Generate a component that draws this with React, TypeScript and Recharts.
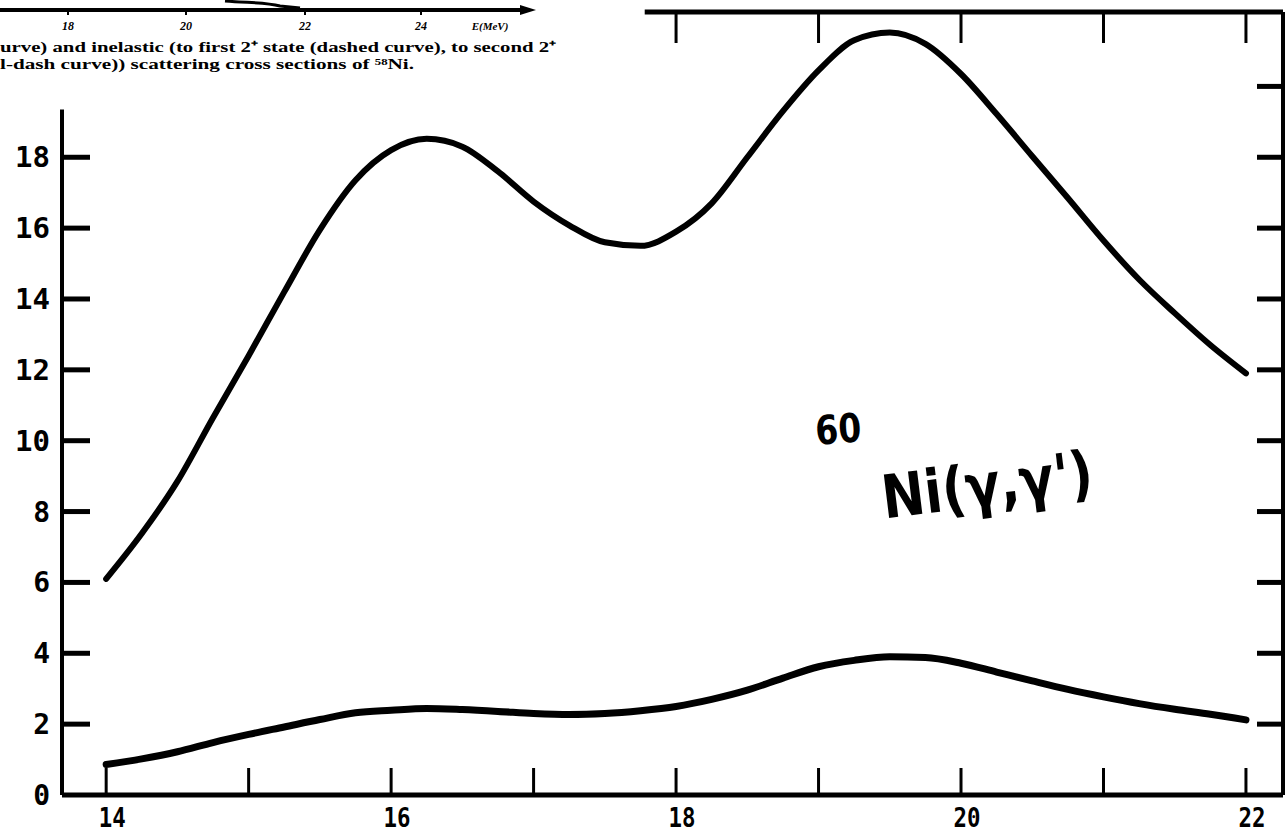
import React from "react";
import { LineChart, Line, XAxis, YAxis, ReferenceLine } from "recharts";

// Photon energy (MeV) and the two cross-section curves.
const energies = [
  14, 14.25, 14.5, 14.75, 15, 15.25, 15.5, 15.75, 16, 16.25, 16.5, 16.75, 17,
  17.25, 17.5, 17.75, 18, 18.25, 18.5, 18.75, 19, 19.25, 19.5, 19.75, 20, 20.25,
  20.5, 20.75, 21, 21.25, 21.5, 21.75, 22,
];
const elastic = [
  6.1, 7.38, 8.85, 10.65, 12.4, 14.2, 15.95, 17.35, 18.2, 18.52, 18.3, 17.6, 16.75,
  16.08, 15.6, 15.5, 15.9, 16.7, 18.0, 19.3, 20.45, 21.3, 21.52, 21.2, 20.35, 19.22,
  18.03, 16.85, 15.65, 14.55, 13.6, 12.7, 11.9,
];
const inelastic = [
  0.86, 1.02, 1.22, 1.48, 1.71, 1.92, 2.13, 2.32, 2.39, 2.44, 2.41, 2.36, 2.3,
  2.27, 2.3, 2.38, 2.5, 2.7, 2.96, 3.3, 3.62, 3.8, 3.9, 3.88, 3.72, 3.47,
  3.22, 2.98, 2.77, 2.58, 2.42, 2.28, 2.12,
];

const bottomTicks = [14, 15, 16, 17, 18, 19, 20, 21, 22];
const leftTicks = [0, 2, 4, 6, 8, 10, 12, 14, 16, 18];
const rightTicks = [2, 4, 6, 8, 10, 12, 14, 16, 18, 20];
const topTicks = [18, 19, 20, 21, 22];

// fragment of the neighbouring figure + caption that the scan cut through
const insetLabels = ["18", "20", "22", "24"];
const captionLines = [
  "urve) and inelastic (to first 2\u207a state (dashed curve), to second 2\u207a",
  "l-dash curve)) scattering cross sections of \u2075\u2078Ni.",
];

const X_DOMAIN: [number, number] = [13.69, 22.26];
const Y_DOMAIN: [number, number] = [0, 22.1];
const INK = "#000";
const PLOT_FONT = "'DejaVu Sans Mono', monospace";

const rows = energies.map((e, i) => ({ e, elastic: elastic[i], inelastic: inelastic[i] }));

const BottomTick = (p: any) => {
  const v = p.payload.value;
  return (
    <g>
      <line x1={p.x} x2={p.x} y1={p.y} y2={p.y - 27} stroke={INK} strokeWidth={3} />
      {v % 2 === 0 ? (
        <text x={p.x + 6} y={p.y + 32} textAnchor="middle" fontFamily={PLOT_FONT}
          fontWeight="bold" fontSize={27} fill={INK} textLength={27} lengthAdjust="spacingAndGlyphs">
          {v}
        </text>
      ) : null}
    </g>
  );
};

const LeftTick = (p: any) => {
  const v = p.payload.value;
  return (
    <g>
      {v > 0 ? <line x1={p.x} x2={p.x + 28} y1={p.y} y2={p.y} stroke={INK} strokeWidth={5} /> : null}
      <text x={p.x - 12} y={p.y + 10} textAnchor="end" fontFamily={PLOT_FONT}
        fontWeight="bold" fontSize={28} fill={INK}
        {...(v >= 10 ? { textLength: 35, lengthAdjust: "spacingAndGlyphs" } : {})}>
        {v}
      </text>
    </g>
  );
};

const RightTick = (p: any) => (
  <line x1={p.x} x2={p.x - 26} y1={p.y} y2={p.y} stroke={INK} strokeWidth={5} />
);

const TopTick = (p: any) => (
  <line x1={p.x} x2={p.x} y1={p.y} y2={p.y + 31} stroke={INK} strokeWidth={3} />
);

function ScanFragment() {
  const insetX = [68, 186, 305, 421];
  return (
    <svg width={1285} height={110} style={{ position: "absolute", left: 0, top: 0 }}>
      <line x1={0} x2={528} y1={10} y2={10} stroke={INK} strokeWidth={4} />
      <path d="M520,5 L536,10 L520,15 Z" fill={INK} />
      <path d="M225,1 C250,3 265,2 280,6 L300,8" fill="none" stroke={INK} strokeWidth={3} />
      {insetLabels.map((t, i) => (
        <g key={t}>
          <line x1={insetX[i]} x2={insetX[i]} y1={10} y2={15} stroke={INK} strokeWidth={2} />
          <text x={insetX[i]} y={30} textAnchor="middle" fontFamily="'Liberation Serif', serif"
            fontStyle="italic" fontWeight="bold" fontSize={12} fill={INK}>{t}</text>
        </g>
      ))}
      <text x={490} y={30} textAnchor="middle" fontFamily="'Liberation Serif', serif"
        fontStyle="italic" fontWeight="bold" fontSize={11} fill={INK}>E(MeV)</text>
      {captionLines.map((t, i) => (
        <text key={i} x={0} y={52 + i * 17} fontFamily="'Liberation Serif', serif" fontWeight="bold"
          fontSize={15} fill={INK} textLength={i === 0 ? 556 : 414} lengthAdjust="spacingAndGlyphs">
          {t}
        </text>
      ))}
    </svg>
  );
}

export default function App() {
  return (
    <div style={{ position: "absolute", left: 0, top: 0, width: 1285, height: 837, background: "#fff" }}>
      <LineChart width={1285} height={837} data={rows} margin={{ top: 11, right: 1, bottom: 41, left: 61 }}>
        <XAxis dataKey="e" type="number" domain={X_DOMAIN} allowDataOverflow ticks={bottomTicks}
          height={1} tickSize={0} tickMargin={0} tickLine={false}
          axisLine={{ stroke: INK, strokeWidth: 5 }} tick={<BottomTick />} interval={0} />
        <XAxis xAxisId="top" orientation="top" dataKey="e" type="number" domain={X_DOMAIN}
          allowDataOverflow ticks={topTicks} height={1} tickSize={0} tickMargin={0}
          tickLine={false} axisLine={false} tick={<TopTick />} interval={0} />
        <YAxis type="number" domain={Y_DOMAIN} allowDataOverflow ticks={leftTicks} width={1}
          tickSize={0} tickMargin={0} tickLine={false} axisLine={false} tick={<LeftTick />} interval={0} />
        <YAxis yAxisId="right" orientation="right" type="number" domain={Y_DOMAIN} allowDataOverflow
          ticks={rightTicks} width={1} tickSize={0} tickMargin={0} tickLine={false}
          axisLine={{ stroke: INK, strokeWidth: 4 }} tick={<RightTick />} interval={0} />
        <ReferenceLine segment={[{ x: 13.69, y: 0 }, { x: 13.69, y: 19.35 }]} stroke={INK}
          strokeWidth={4} ifOverflow="visible" />
        <ReferenceLine segment={[{ x: 17.78, y: 22.1 }, { x: 22.26, y: 22.1 }]} stroke={INK}
          strokeWidth={5} ifOverflow="visible" />
        <Line type="monotone" dataKey="elastic" stroke={INK} strokeWidth={6} dot={false}
          strokeLinecap="round" isAnimationActive={false} />
        <Line type="monotone" dataKey="inelastic" stroke={INK} strokeWidth={7} dot={false}
          strokeLinecap="round" isAnimationActive={false} />
      </LineChart>
      <ScanFragment />
      <svg width={1285} height={837} style={{ position: "absolute", left: 0, top: 0, pointerEvents: "none" }}>
        <text x={815} y={443} fontFamily="'DejaVu Sans', sans-serif" fontWeight="bold" fontSize={40}
          fill={INK} transform="rotate(-4 840 425)" textLength={46} lengthAdjust="spacingAndGlyphs">60</text>
        <text x={880} y={506} fontFamily="'DejaVu Sans', sans-serif" fontWeight="bold" fontSize={60}
          fill={INK} transform="rotate(-7 985 475)" textLength={212} lengthAdjust="spacingAndGlyphs">
          Ni(γ,γ')
        </text>
      </svg>
    </div>
  );
}
